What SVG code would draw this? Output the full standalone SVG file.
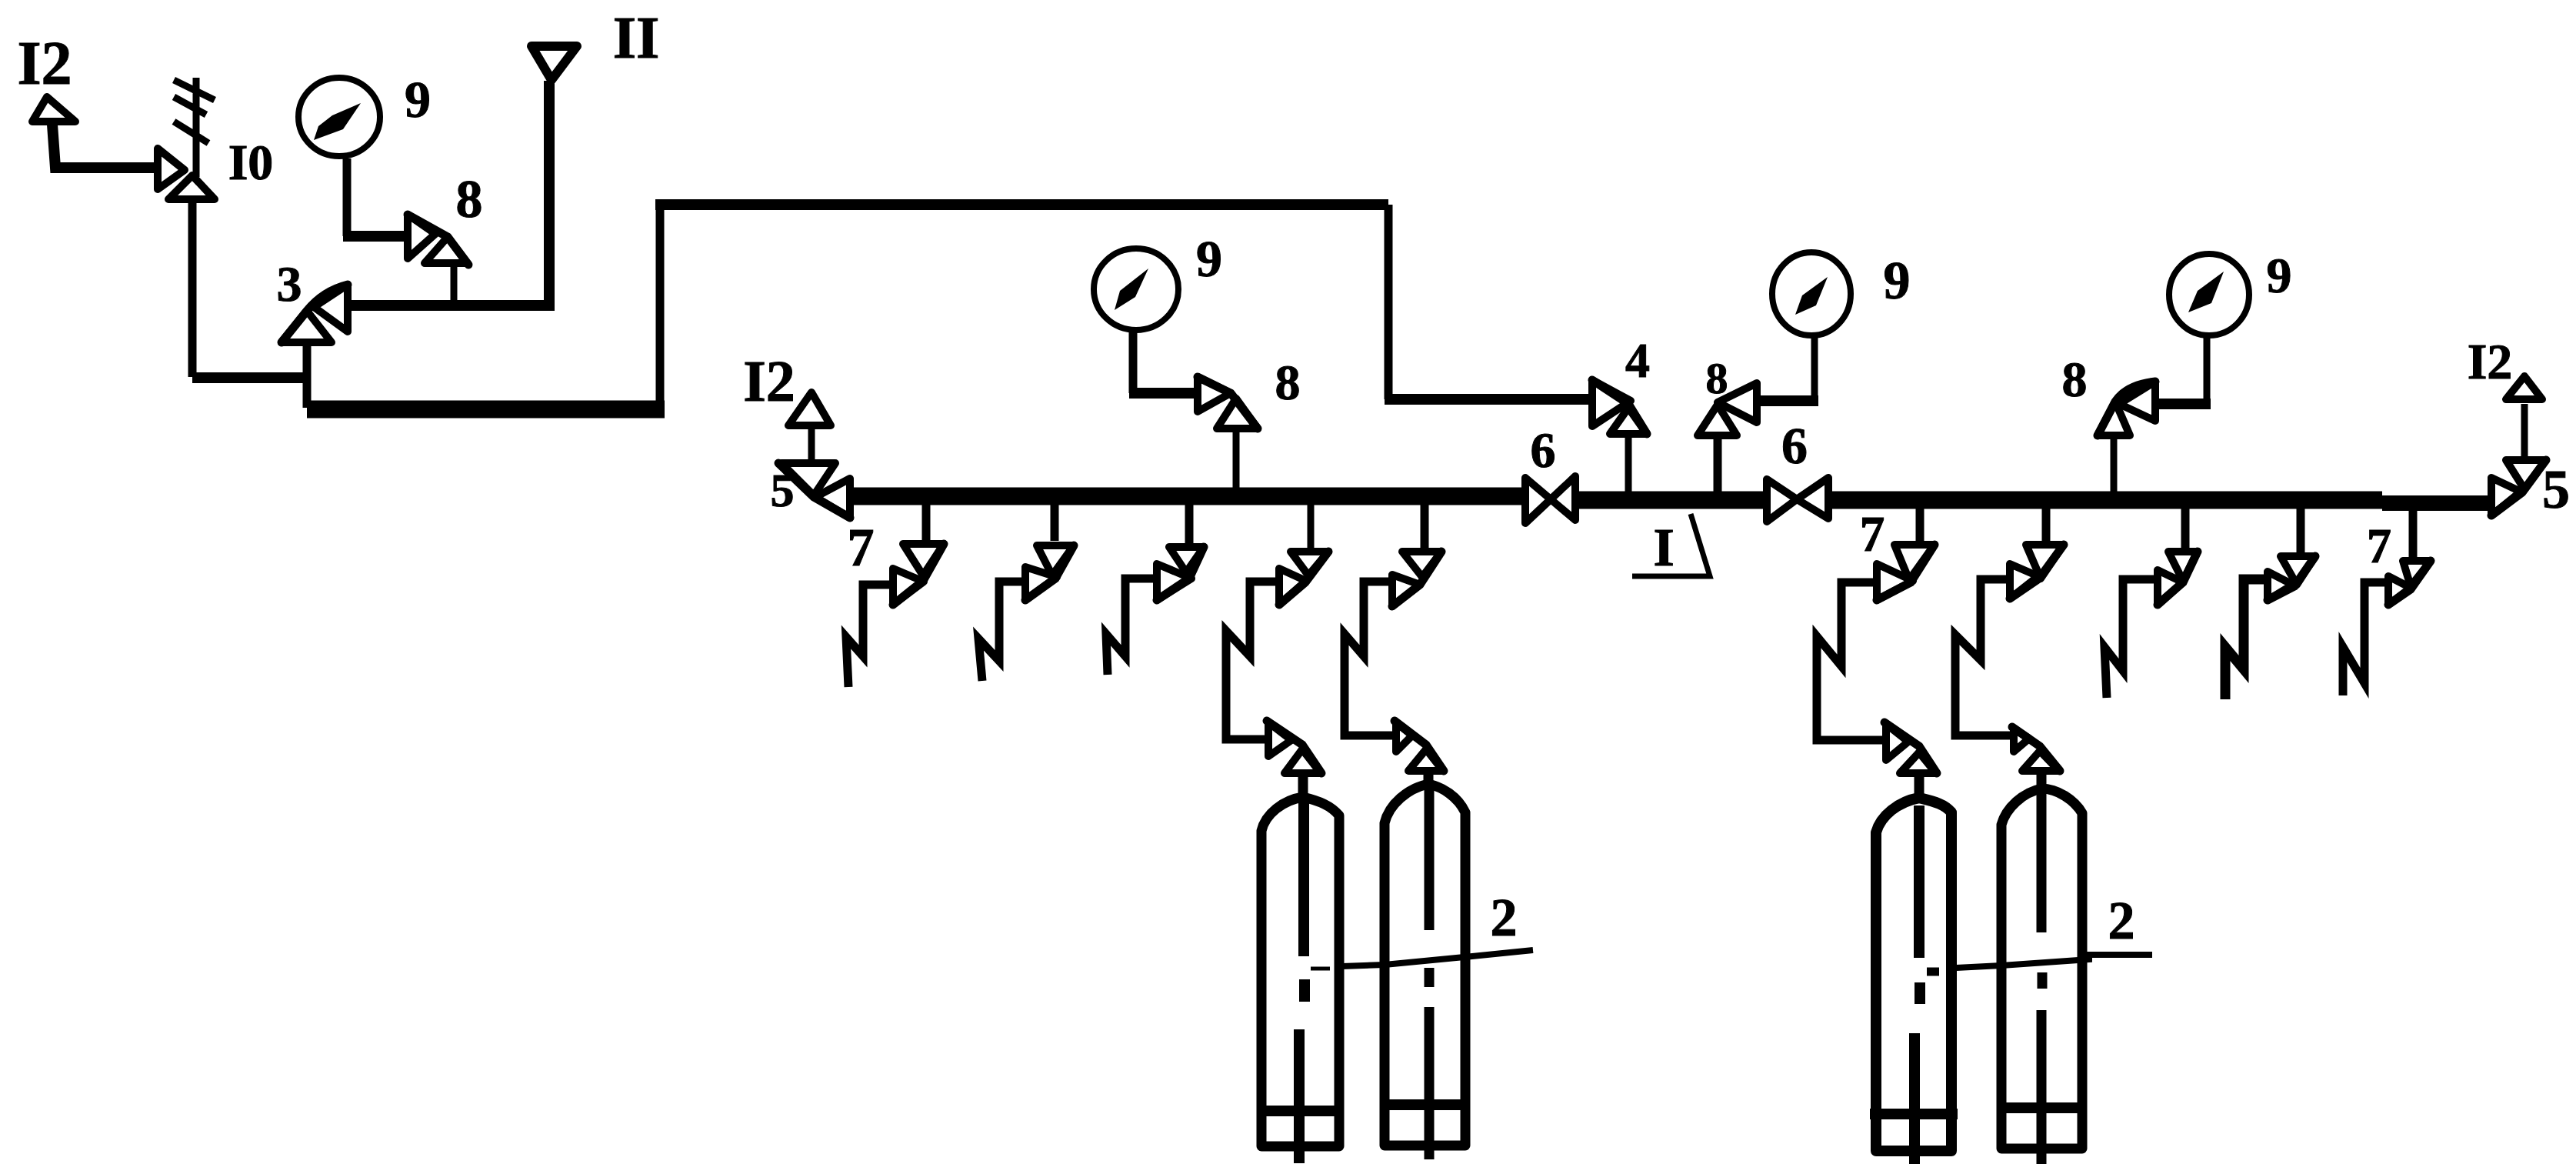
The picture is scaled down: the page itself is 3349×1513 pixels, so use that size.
<svg xmlns="http://www.w3.org/2000/svg" width="3349" height="1513" viewBox="0 0 3349 1513">
<style>
.p{fill:none;stroke:#000;stroke-width:11;stroke-linejoin:miter}
.h{stroke-width:14}
.b{stroke-width:23}
.n{stroke-width:9}
.t{fill:#fff;stroke:#000;stroke-width:10;stroke-linejoin:round}
.r{fill:none;stroke:#000;stroke-width:11;stroke-linecap:round}
.g{fill:#fff;stroke:#000;stroke-width:8}
.k{fill:#000;stroke:none}
.w{fill:none;stroke:#000;stroke-width:13;stroke-linejoin:round}
.c{fill:none;stroke:#000;stroke-width:14}
text{font-family:"Liberation Serif","Times New Roman",serif;font-weight:700;fill:#000;text-anchor:middle;stroke:#000;stroke-width:1}
</style>
<rect width="3349" height="1513" fill="#fff"/>
<g id="connectors">
<path class="p h" d="M68 162 L72 218 H201"/>
<path class="p" d="M250 263 V490"/>
<path class="p h" d="M250 491 H400"/>
<path class="p" d="M399 449 V530"/>
<path class="p b" d="M399 532 H864"/>
<path class="p" d="M858 532 V266"/>
<path class="p h" d="M852 266 H1805"/>
<path class="p" d="M1805 266 V519"/>
<path class="p h" d="M1800 519 H2066"/>
<path class="p h" d="M456 397 H714 V105"/>
<path class="p n" d="M590 346 V397"/>
<path class="p" d="M451 206 V307"/>
<path class="p h" d="M446 307 H526"/>
<path class="p" d="M1473 430 V511"/>
<path class="p h" d="M1468 511 H1553"/>
<path class="p n" d="M1607 561 V646"/>
<path class="p n" d="M1055 557 V598"/>
<path class="p b" d="M1109 645 H1979"/>
<path class="p b" d="M2052 650 H2293"/>
<path class="p b" d="M2381 650 H3097"/>
<path class="p b" d="M3097 654 H3235" style="stroke-width:20"/>
<path class="p n" d="M2117 568 V650"/>
<path class="p" d="M2233 570 V650"/>
<path class="p h" d="M2288 521 H2364"/>
<path class="p n" d="M2359 437 V521"/>
<path class="p n" d="M2748 570 V650"/>
<path class="p h" d="M2806 525 H2874"/>
<path class="p n" d="M2869 437 V525"/>
<path class="p n" d="M3282 525 V594"/>
<path class="p" d="M1204 655 V703"/>
<path class="p" d="M1371 655 V703"/>
<path class="p" d="M1546 655 V707"/>
<path class="p n" d="M1704 655 V713"/>
<path class="p" d="M1852 655 V713"/>
<path class="p" d="M2496 660 V704"/>
<path class="p" d="M2660 660 V704"/>
<path class="p" d="M2841 660 V713"/>
<path class="p" d="M2991 660 V719"/>
<path class="p" d="M3137 660 V725"/>
<path class="p" d="M1157 760 H1122 V853 L1100 828 L1103 893"/>
<path class="p" d="M1329 756 H1299 V859 L1272 830 L1277 885"/>
<path class="p" d="M1500 752 H1463 V853 L1438 824 L1440 877"/>
<path class="p" d="M1659 756 H1625 V853 L1594 820 V961 H1645"/>
<path class="p" d="M1806 756 H1773 V853 L1748 824 V956 H1811"/>
<path class="p" d="M2436 757 H2394 V866 L2362 827 V962 H2450"/>
<path class="p" d="M2609 753 H2575 V858 L2542 825 V956 H2614"/>
<path class="p" d="M2801 753 H2760 V872 L2736 841 L2739 907"/>
<path class="p" d="M2944 753 H2917 V870 L2893 841 V909" style="stroke-width:13"/>
<path class="p" d="M3101 757 H3074 V888 L3046 841 V904"/>
<path class="p" d="M1694 1005 V1038" style="stroke-width:13"/>
<path class="p" d="M1857 1002 V1022" style="stroke-width:13"/>
<path class="p" d="M2495 1005 V1040" style="stroke-width:13"/>
<path class="p" d="M2654 1002 V1028" style="stroke-width:13"/>
</g>
<g id="relief-10">
<path class="p n" d="M255 101 V230 M226 104 L279 130 M226 126 L268 149 M226 158 L271 186"/>
<polygon class="t" points="205,193 205,246 240,221"/>
<polygon class="t" points="250,228 219,259 279,259"/>
<text x="326" y="233" font-size="66">I0</text>
</g>
<g id="end-12a"><polygon class="t" points="61,126 42,158 98,158"/><text x="58" y="109" font-size="80">I2</text></g>
<g id="inlet-11"><polygon class="t" points="691,60 750,60 717,104" style="stroke-width:12"/><text x="827" y="75" font-size="78">II</text></g>
<g id="gauge-9a"><ellipse class="g" cx="441" cy="152" rx="53" ry="51"/><polygon class="k" points="469,134 446,168 408,182 414,164 432,150"/><text x="543" y="152" font-size="68">9</text></g>
<g id="valve-8a"><polygon class="t" points="530,279 530,336 566,304"/><polygon class="t" points="582,308 552,342 607,342"/><path class="r" d="M530 279 L582 308 L609 344"/><text x="610" y="282" font-size="70">8</text></g>
<g id="valve-3"><polygon class="t" points="452,370 452,431 408,399"/><polygon class="t" points="399,404 366,445 431,445"/><path class="r" d="M452 370 Q420 378 399 404 L366 445"/><text x="376" y="391" font-size="66">3</text></g>
<g id="end-12b"><polygon class="t" points="1055,510 1025,553 1080,553"/><text x="1000" y="521" font-size="76">I2</text></g>
<g id="valve-5a"><polygon class="t" points="1016,602 1086,602 1058,644"/><polygon class="t" points="1105,622 1105,673 1060,646"/><path class="r" d="M1012 602 L1058 646 L1105 673"/><text x="1017" y="658" font-size="62">5</text></g>
<g id="gauge-9b"><ellipse class="g" cx="1477" cy="376" rx="55" ry="53"/><polygon class="k" points="1493,349 1476,386 1449,403 1456,378"/><text x="1572" y="359" font-size="68">9</text></g>
<g id="valve-8b"><polygon class="t" points="1557,490 1557,535 1600,511"/><polygon class="t" points="1607,518 1582,557 1635,557"/><path class="r" d="M1557 490 L1600 511 L1635 557"/><text x="1674" y="519" font-size="66">8</text></g>
<g id="valve-7-1"><polygon class="t" points="1174,707 1227,707 1200,748"/><polygon class="t" points="1161,739 1161,786 1201,756"/><path class="r" d="M1227 707 L1200 755 L1161 786"/><text x="1119" y="735" font-size="70">7</text></g>
<g id="valve-7-2"><polygon class="t" points="1348,709 1396,709 1368,748"/><polygon class="t" points="1333,737 1333,780 1374,750"/><path class="r" d="M1396 709 L1372 752 L1333 780"/></g>
<g id="valve-7-3"><polygon class="t" points="1520,711 1565,711 1542,744"/><polygon class="t" points="1504,733 1504,780 1549,752"/><path class="r" d="M1565 711 L1546 752 L1504 780"/></g>
<g id="valve-7-4"><polygon class="t" points="1678,717 1727,717 1701,748"/><polygon class="t" points="1663,739 1663,786 1698,755"/><path class="r" d="M1727 717 L1697 757 L1663 786"/></g>
<g id="valve-7-5"><polygon class="t" points="1823,717 1874,717 1849,750"/><polygon class="t" points="1810,747 1810,788 1846,760"/><path class="r" d="M1874 717 L1846 760 L1810 788"/></g>
<g id="valve-6a"><polygon class="t" points="1983,621 1983,680 2016,649"/><polygon class="t" points="2048,619 2048,676 2016,649"/><text x="2006" y="607" font-size="66">6</text></g>
<g id="valve-6b"><polygon class="t" points="2297,623 2297,678 2336,649"/><polygon class="t" points="2377,621 2377,674 2336,649"/><text x="2333" y="602" font-size="68">6</text></g>
<g id="valve-4"><polygon class="t" points="2070,494 2070,554 2120,521"/><polygon class="t" points="2117,530 2093,564 2141,564"/><path class="r" d="M2070 494 L2117 525 L2141 564"/><text x="2129" y="490" font-size="64">4</text></g>
<g id="gauge-9c"><ellipse class="g" cx="2355" cy="382" rx="51" ry="54"/><polygon class="k" points="2376,360 2361,397 2334,409 2343,384"/><text x="2466" y="388" font-size="70">9</text></g>
<g id="valve-8c"><polygon class="t" points="2284,498 2284,549 2233,523"/><polygon class="t" points="2233,526 2207,566 2258,566"/><text x="2232" y="511" font-size="58">8</text></g>
<g id="section-1"><path class="p n" d="M2122 749 H2223 L2198 668" style="stroke-width:7"/><text x="2163" y="735" font-size="70">I</text></g>
<g id="gauge-9d"><ellipse class="g" cx="2872" cy="383" rx="52" ry="53"/><polygon class="k" points="2891,353 2875,394 2845,406 2857,378"/><text x="2963" y="380" font-size="66">9</text></g>
<g id="valve-8d"><polygon class="t" points="2802,496 2802,547 2755,525"/><polygon class="t" points="2750,522 2727,566 2769,566"/><path class="r" d="M2802 496 Q2765 500 2750 522 L2727 566"/><text x="2697" y="515" font-size="66">8</text></g>
<g id="valve-7-6"><polygon class="t" points="2463,708 2515,708 2482,754"/><polygon class="t" points="2440,733 2440,780 2487,755"/><path class="r" d="M2515 708 L2484 757 L2440 780"/><text x="2434" y="716" font-size="65">7</text></g>
<g id="valve-7-7"><polygon class="t" points="2634,708 2683,708 2653,752"/><polygon class="t" points="2613,733 2613,778 2650,749"/><path class="r" d="M2683 708 L2651 752 L2613 778"/></g>
<g id="valve-7-8"><polygon class="t" points="2819,717 2857,717 2838,755"/><polygon class="t" points="2805,741 2805,786 2838,757"/><path class="r" d="M2857 717 L2838 757 L2805 786"/></g>
<g id="valve-7-9"><polygon class="t" points="2965,723 3010,723 2986,760"/><polygon class="t" points="2948,743 2948,780 2981,760"/><path class="r" d="M3010 723 L2983 762 L2948 780"/></g>
<g id="valve-7-10"><polygon class="t" points="3124,729 3160,729 3134,762"/><polygon class="t" points="3105,749 3105,786 3134,764"/><path class="r" d="M3160 729 L3134 766 L3105 786"/><text x="3093" y="731" font-size="64">7</text></g>
<g id="valve-5b"><polygon class="t" points="3239,621 3239,670 3277,639"/><polygon class="t" points="3258,598 3310,598 3282,636"/><path class="r" d="M3310 598 L3279 640 L3239 670"/><text x="3323" y="660" font-size="72">5</text></g>
<g id="end-12c"><polygon class="t" points="3282,489 3258,519 3305,519"/><text x="3237" y="492" font-size="66">I2</text></g>
<g id="cylinder-a">
<path class="w" d="M1640 1490 V1080 C1645 1058 1668 1040 1694 1036 C1715 1041 1730 1047 1741 1060 V1490 Z"/>
<path class="c" d="M1634 1444 H1747"/>
<path class="c" d="M1695 1042 V1243 M1696 1273 V1302 M1689 1338 V1512"/>
<path class="p" d="M1704 1259 H1729" style="stroke-width:5"/>
<polygon class="t" points="1649,939 1649,983 1679,962"/>
<polygon class="t" points="1693,974 1670,1005 1717,1005"/>
<path class="r" d="M1647 937 L1693 968 L1718 1005"/>
</g>
<g id="cylinder-b">
<path class="w" d="M1800 1489 V1070 C1806 1045 1830 1025 1857 1019 C1875 1023 1895 1035 1905 1056 V1489 Z"/>
<path class="c" d="M1794 1436 H1911"/>
<path class="c" d="M1858 1019 V1209 M1858 1258 V1283" style="stroke-width:13"/>
<path class="c" d="M1858 1309 V1507" style="stroke-width:13"/>
<polygon class="t" points="1815,939 1815,977 1836,956"/>
<polygon class="t" points="1854,974 1831,1002 1876,1002"/>
<path class="r" d="M1813 937 L1854 968 L1877 1002"/>
</g>
<g id="leader-2a"><path class="p" d="M1745 1256 L1800 1254 L1914 1243 L1993 1235" style="stroke-width:8"/><text x="1955" y="1216" font-size="70">2</text></g>
<g id="cylinder-c">
<path class="w" d="M2439 1496 V1082 C2445 1060 2468 1042 2495 1037 C2515 1042 2528 1045 2537 1056 V1496 Z" style="stroke-width:14"/>
<path class="c" d="M2431 1448 H2545"/>
<path class="c" d="M2495 1047 V1245 M2496 1277 V1305"/>
<path class="c" d="M2489 1343 V1513"/>
<path class="p" d="M2505 1263 H2521"/>
<polygon class="t" points="2452,941 2452,988 2481,964"/>
<polygon class="t" points="2495,978 2470,1005 2517,1005"/>
<path class="r" d="M2450 939 L2495 970 L2518 1005"/>
</g>
<g id="cylinder-d">
<path class="w" d="M2602 1493 V1072 C2608 1050 2630 1030 2654 1025 C2675 1025 2697 1040 2707 1057 V1493 Z"/>
<path class="c" d="M2596 1440 H2713"/>
<path class="c" d="M2654 1025 V1212 M2655 1264 V1285" style="stroke-width:13"/>
<path class="c" d="M2654 1313 V1513" style="stroke-width:13"/>
<polygon class="t" points="2618,947 2618,977 2638,960"/>
<polygon class="t" points="2652,976 2629,1002 2677,1002"/>
<path class="r" d="M2616 945 L2652 970 L2678 1002"/>
</g>
<g id="leader-2b"><path class="p" d="M2543 1258 L2602 1255 L2716 1247 L2716 1241 H2798" style="stroke-width:8"/><text x="2758" y="1220" font-size="70">2</text></g>
</svg>
